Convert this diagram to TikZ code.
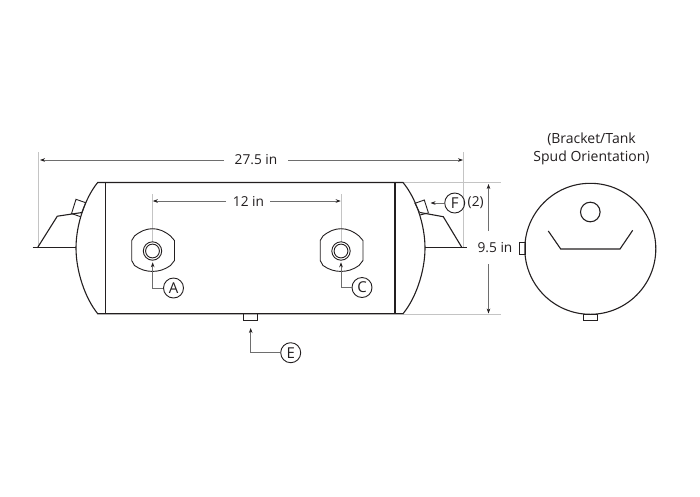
\documentclass[tikz,border=0pt]{standalone}
\usepackage{fontspec}
\setmainfont{Open Sans}
\usetikzlibrary{arrows.meta}
\definecolor{ink}{HTML}{231F20}
\definecolor{extgray}{HTML}{C4C4C4}
\definecolor{leadgray}{HTML}{6E6E6E}
\tikzset{
  outline/.style={draw=ink,line width=1.1pt,line join=miter},
  thinout/.style={draw=ink,line width=0.9pt},
  extline/.style={draw=extgray,line width=0.7pt},
  dimline/.style={draw=leadgray,line width=0.7pt,-{Stealth[length=5pt,width=3.6pt,color=ink]}},
  leadline/.style={draw=leadgray,line width=0.7pt,-{Stealth[length=5pt,width=3.6pt,color=ink]}},
  bubble/.style={circle,draw=ink,line width=0.9pt,minimum size=20pt,inner sep=0pt,font=\fontsize{15}{15}\selectfont,text=ink},
  dimtext/.style={inner sep=0pt,font=\fontsize{13.7}{13.7}\selectfont,text=ink},
  titletext/.style={inner sep=0pt,align=center,font=\fontsize{14}{14}\selectfont,text=ink},
  port/.pic={
    \draw[thinout] (-20.8,-10.5) -- (-18,-15) .. controls (-12,-20) and (-6,-22.3) .. (0,-22.3)
      .. controls (6,-22.3) and (12,-20) .. (18,-15) -- (22,-10.5) -- (22,9.5)
      -- (18,14.5) .. controls (12,18.8) and (6,20.4) .. (0,20.4)
      .. controls (-6,20.4) and (-12,18.8) .. (-18,14.5) -- (-20.8,9.5) -- cycle;
    \draw[thinout] (0,0) circle[radius=9.2];
    \draw[thinout] (0,0) circle[radius=6.9];
  }
}
\begin{document}
\begin{tikzpicture}[x=1pt,y=-1pt]
\useasboundingbox (0,0) rectangle (700,496);
% extension lines
\draw[extline] (38.3,152) -- (38.3,248);
\draw[extline] (463.3,152) -- (463.3,248);
\draw[extline] (152.5,194) -- (152.5,242);
\draw[extline] (341,194) -- (341,242);
\draw[extline] (403,182.5) -- (501,182.5);
\draw[extline] (403,314) -- (501,314);
% tank
\draw[outline] (97.7,182.5) -- (403,182.5) .. controls (416,198) and (425,225) .. (425,248)
  .. controls (425,271) and (416,298) .. (403,313.7) -- (97.7,313.7)
  .. controls (85,298) and (76,271) .. (76,248) .. controls (76,225) and (85,198) .. (97.7,182.5) -- cycle;
\draw[outline] (105.7,182.5) -- (105.7,313.7);
\draw[outline] (395,182.5) -- (395,313.7);
% left bracket
\draw[outline] (32.7,247.7) -- (76,247.7);
\draw[outline] (37.5,247.7) -- (57.3,216.2) -- (82,212.5);
\draw[thinout] (71.7,213) -- (76,199.3) -- (85.7,202.7) -- (81.7,213);
\draw[thinout] (71,213.3) -- (80.5,216.7);
% right bracket
\draw[outline] (425,247.7) -- (467.3,247.7);
\draw[outline] (462,247.7) -- (443.3,216.7) -- (420,212.5);
\draw[thinout] (419.5,212.5) -- (415,203.3) -- (424.3,200) -- (428.3,212.5);
\draw[thinout] (420,215) -- (429,212.7);
% ports
\pic at (152.5,251) {port};
\pic at (341,251) {port};
% bottom spud
\draw[thinout] (243.3,313.7) rectangle (257.3,320.3);
% end view
\draw[outline] (590.3,248.8) circle[radius=65.5];
\draw[outline] (590.3,212) circle[radius=9.8];
\draw[outline] (548.3,231) -- (560.7,249) -- (620,249) -- (632.7,230.3);
\draw[thinout] (519.5,242) rectangle (525.2,254.3);
\draw[thinout] (583.7,314.3) rectangle (597.7,320.3);
% dimension texts
\node[dimtext] (dimL) at (256,160) {27.5 in};
\node[dimtext] (dimW) at (248.5,201) {12 in};
\node[dimtext] (dimH) at (495,248) {9.5 in};
\coordinate (L1) at (40,160);
\coordinate (L2) at (463,160);
\coordinate (W1) at (152.8,201);
\coordinate (W2) at (340.7,201);
\coordinate (H1) at (488.5,184);
\coordinate (H2) at (488.5,313.5);
\draw[dimline] (224,160) -- (L1);
\draw[dimline] (288,160) -- (L2);
\draw[dimline] (226,201) -- (W1);
\draw[dimline] (270,201) -- (W2);
\draw[dimline] (488.5,231) -- (H1);
\draw[dimline] (488.5,264) -- (H2);
% callouts
\node[bubble] (A) at (173.5,288) {A};
\node[bubble] (C) at (362,287.5) {C};
\node[bubble] (E) at (290.7,352.7) {E};
\node[bubble] (F) at (454.7,203) {F};
\node[dimtext,anchor=west] (F2) at (467.5,203) {(2)};
\coordinate (Atip) at (152.7,262.3);
\coordinate (Ctip) at (341,262.3);
\coordinate (Etip) at (250.7,328);
\coordinate (Ftip) at (430.5,203);
\draw[leadline] (A.west) -| (Atip);
\draw[leadline] (C.west) -| (Ctip);
\draw[leadline] (E.west) -| (Etip);
\draw[leadline] (F.west) -- (Ftip);
% title
\node[titletext] (title) at (591.5,149) {(Bracket/Tank\\[4pt]Spud Orientation)};
\end{tikzpicture}
\end{document}
